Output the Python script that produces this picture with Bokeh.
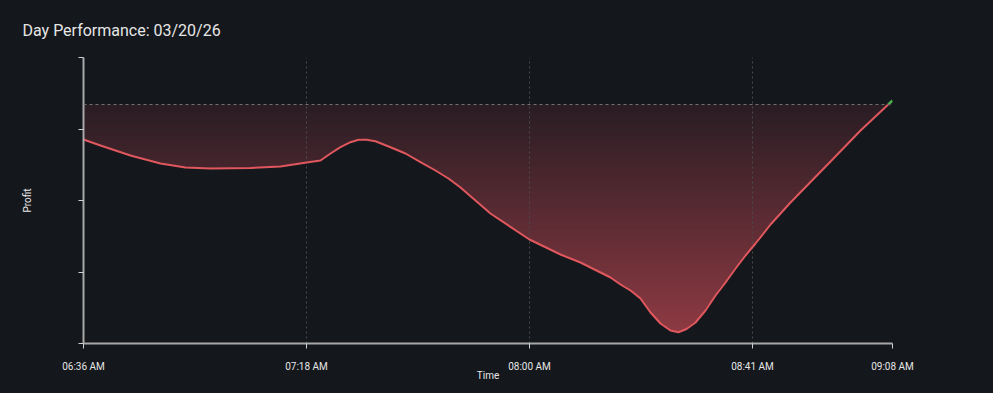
import numpy as np
import pandas as pd
from bokeh.plotting import figure
from bokeh.models import FixedTicker, DatetimeTickFormatter, Span, CustomJSTickFormatter, Range1d
from bokeh.embed import file_html
from bokeh.resources import INLINE

DAY = "2026-03-20"
TITLE = "Day Performance: 03/20/26"

times = ["06:36:36", "06:39:47", "06:45:24", "06:51:01", "06:55:42", "07:00:23",
         "07:07:52", "07:13:29", "07:18:21", "07:20:58", "07:22:51", "07:24:43",
         "07:26:35", "07:28:05", "07:29:35", "07:31:16", "07:34:05", "07:36:53",
         "07:39:42", "07:42:30", "07:44:56", "07:47:11", "07:52:48", "08:00:06",
         "08:05:55", "08:09:39", "08:13:24", "08:15:16", "08:17:09", "08:19:01",
         "08:20:53", "08:22:46", "08:24:38", "08:26:30", "08:28:00", "08:29:30",
         "08:31:11", "08:33:03", "08:34:56", "08:36:48", "08:38:41", "08:40:33",
         "08:42:25", "08:45:14", "08:48:58", "08:56:28", "09:02:05", "09:08:04"]
profit = [-35, -41, -51, -59, -63, -64,
          -63.5, -62, -58, -56, -49, -42.7,
          -37.7, -35.2, -35.3, -36.7, -42.7, -49,
          -57.7, -66, -74, -83, -109, -135,
          -150, -158, -168, -173, -180, -186,
          -194, -208, -219, -226, -227.7, -224.5,
          -218, -206, -191, -178, -164, -151,
          -139, -120, -98, -57, -26, 4]

tick_times = ["06:36:36", "07:18:21", "08:00:06", "08:41:51", "09:08:04"]
y_lo, y_hi = -239, 47

BG = "#14171c"
LINE_RED = "#e0585e"
GREEN = "#4caf50"

t = pd.to_datetime([f"{DAY} {s}" for s in times])
tms = (t.astype("int64") // 10**6).to_numpy().astype(float)
pr = np.array(profit, dtype=float)
ticks_ms = [float(pd.Timestamp(f"{DAY} {s}").value // 10**6) for s in tick_times]

p = figure(width=993, height=393, x_axis_type="datetime",
           output_backend="svg", toolbar_location=None,
           background_fill_color=BG, border_fill_color=BG,
           min_border_left=83, min_border_right=101, min_border_top=57, min_border_bottom=50,
           title=TITLE)
p.outline_line_color = None
p.outline_line_alpha = 0
p.x_range = Range1d(tms[0], tms[-1])
p.y_range = Range1d(y_lo, y_hi)

p.title.text_font = "Roboto"
p.title.text_font_size = "16px"
p.title.text_font_style = "normal"
p.title.text_color = "#e6e6e6"
p.title.align = "left"
p.title.offset = -61
p.title.standoff = 35

# gradient fill between curve and zero line
ncols, nrows = 809, 240
xs = np.linspace(tms[0], tms[-1], ncols)
ymin_fill = pr.min()
ys = np.linspace(ymin_fill, 0, nrows)
curve = np.interp(xs, tms, pr)
img = np.zeros((nrows, ncols), dtype=np.uint32)
view = img.view(dtype=np.uint8).reshape((nrows, ncols, 4))
c0 = np.array([42, 29, 36], dtype=float)
c1 = np.array([142, 58, 67], dtype=float)
for i, yv in enumerate(ys):
    f = (0 - yv) / (0 - ymin_fill)
    col = c0 + (c1 - c0) * f
    mask = yv >= curve
    view[i, mask, 0] = int(col[0])
    view[i, mask, 1] = int(col[1])
    view[i, mask, 2] = int(col[2])
    view[i, mask, 3] = 255
r_img = p.image_rgba(image=[img], x=tms[0], y=ymin_fill, dw=tms[-1] - tms[0], dh=0 - ymin_fill)
r_img.level = "image"

# zero line
p.add_layout(Span(location=0, dimension="width", line_color="#707070",
                  line_dash="3 3", line_width=1))

# line: red while negative, green once above zero
pos = np.where(pr > 0)[0]
if len(pos):
    k = pos[0]
    frac = (0 - pr[k - 1]) / (pr[k] - pr[k - 1])
    xc = tms[k - 1] + frac * (tms[k] - tms[k - 1])
    red_x = list(tms[:k]) + [xc]
    red_y = list(pr[:k]) + [0.0]
    green_x = [xc] + list(tms[k:])
    green_y = [0.0] + list(pr[k:])
else:
    red_x, red_y, green_x, green_y = list(tms), list(pr), [], []
p.line(red_x, red_y, line_color=LINE_RED, line_width=2, line_join="round")
if green_x:
    p.line(green_x, green_y, line_color=GREEN, line_width=2.5)

# axes
p.xaxis.ticker = FixedTicker(ticks=ticks_ms)
p.xaxis.formatter = DatetimeTickFormatter(
    seconds="%I:%M %p", minsec="%I:%M %p", minutes="%I:%M %p", hourmin="%I:%M %p",
    hours="%I:%M %p", days="%I:%M %p")
p.yaxis.ticker = FixedTicker(ticks=list(np.linspace(y_lo, y_hi, 5)))
p.yaxis.formatter = CustomJSTickFormatter(code="return ''")

for ax in (p.xaxis[0], p.yaxis[0]):
    ax.axis_line_color = "#a8a8a8"
    ax.axis_line_width = 2
    ax.major_tick_line_color = "#d0d0d0"
    ax.major_tick_in = 0
    ax.major_tick_out = 5
    ax.minor_tick_line_color = None
    ax.major_label_text_font = "Roboto"
    ax.major_label_text_font_size = "10px"
    ax.major_label_text_color = "#e6e6e6"
    ax.axis_label_text_font = "Roboto"
    ax.axis_label_text_font_size = "10px"
    ax.axis_label_text_font_style = "normal"
    ax.axis_label_text_color = "#e6e6e6"

p.xaxis.axis_label = "Time"
p.xaxis.major_label_standoff = 12
p.xaxis.axis_label_standoff = -5
p.yaxis.axis_label = "Profit"
p.yaxis.axis_label_standoff = 46

p.xgrid.ticker = FixedTicker(ticks=ticks_ms[1:])
p.xgrid.grid_line_color = "#4a4a4a"
p.xgrid.grid_line_dash = "2 3"
p.xgrid.grid_line_width = 1
p.ygrid.grid_line_color = None

html = file_html(p, INLINE)
html = html.replace("</head>", f"<style>html, body {{ background: {BG}; }}</style></head>", 1)
open("out.html", "w").write(html)
